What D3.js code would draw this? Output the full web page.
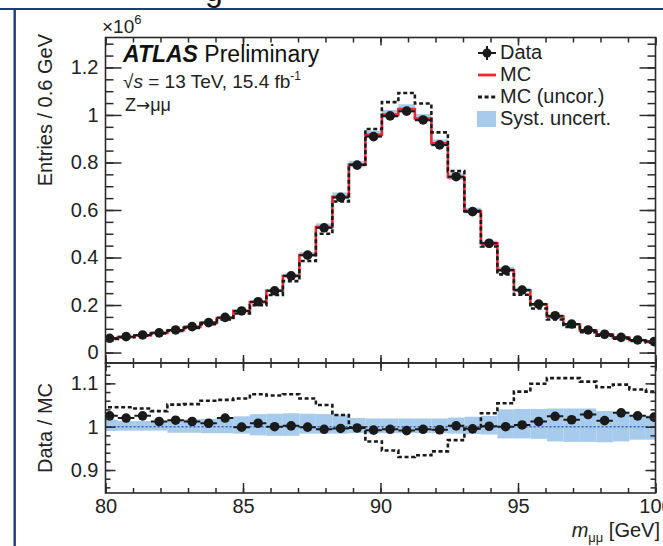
<!DOCTYPE html>
<html lang="en">
<head>
<meta charset="UTF-8">
<title>Z to mumu invariant mass</title>
<style>
    body { margin: 0; background: #ffffff; }
    svg { display: block; font-family: 'Liberation Sans', Arial, sans-serif; }
</style>
</head>
<body>
<svg id="chart" width="663" height="546"></svg>
<script src="https://d3js.org/d3.v7.min.js"></script>
<script>
// bin centres in GeV, bins are 0.6 GeV wide
const massCenters = [80.15, 80.75, 81.35, 81.95, 82.55, 83.15, 83.75, 84.35, 84.95, 85.55, 86.15, 86.75,
    87.35, 87.95, 88.55, 89.15, 89.75, 90.35, 90.95, 91.55, 92.15, 92.75, 93.35, 93.95, 94.55, 95.15,
    95.75, 96.35, 96.95, 97.55, 98.15, 98.75, 99.35, 99.95];
const binWidth = 0.6;
// entries in units of 10^6
const dataEntries = [0.060, 0.067, 0.074, 0.083, 0.095, 0.109, 0.126, 0.148, 0.175, 0.214, 0.260, 0.323,
    0.410, 0.525, 0.653, 0.789, 0.909, 0.996, 1.016, 0.979, 0.874, 0.740, 0.593, 0.460, 0.347, 0.263,
    0.204, 0.155, 0.120, 0.095, 0.077, 0.064, 0.053, 0.046];
const mcEntries = [0.0585, 0.0657, 0.0722, 0.0820, 0.0936, 0.1077, 0.1250, 0.1451, 0.1752, 0.2123, 0.2600, 0.3224,
    0.4104, 0.5282, 0.6556, 0.7914, 0.9163, 1.0020, 1.0252, 0.9849, 0.8802, 0.7385, 0.5960, 0.4595, 0.3470, 0.2620,
    0.2016, 0.1514, 0.1181, 0.0924, 0.0759, 0.0620, 0.0517, 0.0450];
const mcUncorEntries = [0.0574, 0.0641, 0.0710, 0.0801, 0.0904, 0.1036, 0.1189, 0.1394, 0.1643, 0.1991, 0.2425, 0.3005,
    0.3850, 0.5000, 0.6358, 0.7906, 0.9410, 1.0540, 1.0925, 1.0482, 0.9268, 0.7637, 0.5954, 0.4462, 0.3292, 0.2433,
    0.1856, 0.1394, 0.1079, 0.0861, 0.0706, 0.0583, 0.0488, 0.0426];
// Data / MC ratios
const ratioData = [1.025, 1.020, 1.025, 1.012, 1.015, 1.012, 1.008, 1.020, 0.999, 1.008, 1.000, 1.002,
    0.999, 0.994, 0.996, 0.997, 0.992, 0.994, 0.991, 0.994, 0.993, 1.002, 0.995, 1.001, 1.000, 1.004,
    1.012, 1.024, 1.016, 1.028, 1.014, 1.032, 1.025, 1.022];
const ratioUncor = [1.045, 1.045, 1.042, 1.036, 1.051, 1.052, 1.060, 1.062, 1.065, 1.075, 1.072, 1.075,
    1.065, 1.050, 1.027, 0.998, 0.966, 0.945, 0.930, 0.934, 0.943, 0.969, 0.996, 1.031, 1.054, 1.081,
    1.099, 1.112, 1.112, 1.104, 1.091, 1.097, 1.086, 1.081];
// relative systematic uncertainty, up and down
const systUp = [0.016, 0.013, 0.013, 0.013, 0.017, 0.017, 0.018, 0.018, 0.024, 0.029, 0.030, 0.031,
    0.030, 0.029, 0.028, 0.020, 0.019, 0.019, 0.019, 0.019, 0.019, 0.021, 0.023, 0.025, 0.040, 0.041,
    0.041, 0.042, 0.042, 0.042, 0.036, 0.035, 0.026, 0.026];
const systDown = [0.010, 0.009, 0.009, 0.009, 0.014, 0.014, 0.015, 0.015, 0.016, 0.020, 0.021, 0.021,
    0.016, 0.016, 0.016, 0.015, 0.015, 0.015, 0.015, 0.015, 0.015, 0.016, 0.017, 0.018, 0.027, 0.027,
    0.028, 0.034, 0.035, 0.035, 0.036, 0.034, 0.030, 0.030];
const mainTicks = [0, 0.2, 0.4, 0.6, 0.8, 1, 1.2];
const mainTickLabels = ["0", "0.2", "0.4", "0.6", "0.8", "1", "1.2"];
const ratioTicks = [0.9, 1, 1.1];
const ratioTickLabels = ["0.9", "1", "1.1"];
const massTicks = [80, 85, 90, 95, 100];
const massTickLabels = ["80", "85", "90", "95", "100"];
const legendLabels = ["Data", "MC", "MC (uncor.)", "Syst. uncert."];

const svg = d3.select("#chart");
const left = 105.5, right = 655.5, top1 = 37.5, bottom1 = 363, bottom2 = 493;
const ink = "#2a2a2a", red = "#f0282d", band = "#a6cbec";

const x = d3.scaleLinear().domain([80, 100]).range([left, right]);
const yMain = d3.scaleLinear().domain([-0.044, 1.326]).range([bottom1, top1]);
const yRatio = d3.scaleLinear().domain([0.847, 1.147]).range([bottom2, bottom1]);

const bins = massCenters.map((c, i) => ({
    lo: c - binWidth / 2, hi: c + binWidth / 2, c: c,
    data: dataEntries[i], mc: mcEntries[i], unc: mcUncorEntries[i],
    r: ratioData[i], ru: ratioUncor[i], up: systUp[i], dn: systDown[i]
}));

// slide border around the figure
svg.append("line").attr("x1", 0).attr("x2", 663).attr("y1", 9).attr("y2", 9)
    .attr("stroke", "#1e3a80").attr("stroke-width", 2.2);
svg.append("line").attr("x1", 14.7).attr("x2", 14.7).attr("y1", 8).attr("y2", 546)
    .attr("stroke", "#1e3a80").attr("stroke-width", 2.4);
svg.append("text").attr("x", 205).attr("y", 1).attr("font-size", 32).attr("fill", "#111").text("g");

const defs = svg.append("defs");
defs.append("clipPath").attr("id", "clipMain").append("rect")
    .attr("x", left).attr("y", top1).attr("width", right - left).attr("height", bottom1 - top1);
defs.append("clipPath").attr("id", "clipRatio").append("rect")
    .attr("x", left).attr("y", bottom1).attr("width", right - left).attr("height", bottom2 - bottom1);

function stepPath(yScale, key) {
    const pts = bins.map(b => [b.lo, b[key]]);
    pts.push([bins[bins.length - 1].hi, bins[bins.length - 1][key]]);
    return d3.line().x(d => x(d[0])).y(d => yScale(d[1])).curve(d3.curveStepAfter)(pts);
}

// ---- upper panel ----
const main = svg.append("g").attr("clip-path", "url(#clipMain)");
main.selectAll("rect.band").data(bins).enter().append("rect")
    .attr("x", d => x(d.lo)).attr("width", d => x(d.hi) - x(d.lo))
    .attr("y", d => yMain(d.mc * (1 + d.up)))
    .attr("height", d => yMain(d.mc * (1 - d.dn)) - yMain(d.mc * (1 + d.up)))
    .attr("fill", band);
main.append("path").attr("d", stepPath(yMain, "mc"))
    .attr("fill", "none").attr("stroke", red).attr("stroke-width", 2.6);
main.append("path").attr("d", stepPath(yMain, "unc"))
    .attr("fill", "none").attr("stroke", "#1a1a1a").attr("stroke-width", 2.6).attr("stroke-dasharray", "4,2.6");
main.selectAll("line.err").data(bins).enter().append("line")
    .attr("x1", d => x(d.lo)).attr("x2", d => x(d.hi))
    .attr("y1", d => yMain(d.data)).attr("y2", d => yMain(d.data))
    .attr("stroke", "#1a1a1a").attr("stroke-width", 2);
main.selectAll("circle").data(bins).enter().append("circle")
    .attr("cx", d => x(d.c)).attr("cy", d => yMain(d.data)).attr("r", 4.8).attr("fill", "#1a1a1a");

// ---- ratio panel ----
const ratio = svg.append("g").attr("clip-path", "url(#clipRatio)");
ratio.selectAll("rect.band").data(bins).enter().append("rect")
    .attr("x", d => x(d.lo)).attr("width", d => x(d.hi) - x(d.lo))
    .attr("y", d => yRatio(1 + d.up))
    .attr("height", d => yRatio(1 - d.dn) - yRatio(1 + d.up))
    .attr("fill", band);
ratio.append("line").attr("x1", left).attr("x2", right).attr("y1", yRatio(1)).attr("y2", yRatio(1))
    .attr("stroke", "#3a5ad0").attr("stroke-width", 1.6).attr("stroke-dasharray", "2,2");
ratio.append("path").attr("d", stepPath(yRatio, "ru"))
    .attr("fill", "none").attr("stroke", "#1a1a1a").attr("stroke-width", 2.6).attr("stroke-dasharray", "4,2.6");
ratio.selectAll("line.err").data(bins).enter().append("line")
    .attr("x1", d => x(d.lo)).attr("x2", d => x(d.hi))
    .attr("y1", d => yRatio(d.r)).attr("y2", d => yRatio(d.r))
    .attr("stroke", "#1a1a1a").attr("stroke-width", 2);
ratio.selectAll("circle").data(bins).enter().append("circle")
    .attr("cx", d => x(d.c)).attr("cy", d => yRatio(d.r)).attr("r", 4.8).attr("fill", "#1a1a1a");

// ---- axes ----
function place(axis, tx, ty) {
    const g = svg.append("g").attr("transform", `translate(${tx},${ty})`).call(axis);
    g.select(".domain").remove();
    g.attr("font-family", null).attr("font-size", 20);
    g.selectAll("line").attr("stroke", ink).attr("stroke-width", 1.5);
    g.selectAll("text").attr("fill", "#222");
    return g;
}
const minorMain = d3.range(0, 1.31, 0.05);
const minorRatio = d3.range(0.86, 1.141, 0.02);
const minorMass = d3.range(80, 100.1, 1);

// upper panel: left/right
place(d3.axisLeft(yMain).tickValues(minorMain).tickSize(-8).tickFormat(""), left, 0);
place(d3.axisLeft(yMain).tickValues(mainTicks).tickSize(-16).tickPadding(7)
    .tickFormat((d, i) => mainTickLabels[i]), left, 0);
place(d3.axisRight(yMain).tickValues(minorMain).tickSize(-8).tickFormat(""), right, 0);
place(d3.axisRight(yMain).tickValues(mainTicks).tickSize(-16).tickFormat(""), right, 0);
// upper panel: top/bottom
place(d3.axisTop(x).tickValues(minorMass).tickSize(-5).tickFormat(""), 0, top1);
place(d3.axisTop(x).tickValues(massTicks).tickSize(-8).tickFormat(""), 0, top1);
place(d3.axisBottom(x).tickValues(minorMass).tickSize(-5).tickFormat(""), 0, bottom1);
place(d3.axisBottom(x).tickValues(massTicks).tickSize(-8).tickFormat(""), 0, bottom1);
// ratio panel
place(d3.axisLeft(yRatio).tickValues(minorRatio).tickSize(-5).tickFormat(""), left, 0);
place(d3.axisLeft(yRatio).tickValues(ratioTicks).tickSize(-10).tickPadding(7)
    .tickFormat((d, i) => ratioTickLabels[i]), left, 0);
place(d3.axisRight(yRatio).tickValues(minorRatio).tickSize(-5).tickFormat(""), right, 0);
place(d3.axisRight(yRatio).tickValues(ratioTicks).tickSize(-10).tickFormat(""), right, 0);
place(d3.axisTop(x).tickValues(minorMass).tickSize(-5).tickFormat(""), 0, bottom1);
place(d3.axisTop(x).tickValues(massTicks).tickSize(-8).tickFormat(""), 0, bottom1);
place(d3.axisBottom(x).tickValues(minorMass).tickSize(-5).tickFormat(""), 0, bottom2);
place(d3.axisBottom(x).tickValues(massTicks).tickSize(-10).tickPadding(6)
    .tickFormat((d, i) => massTickLabels[i]), 0, bottom2);

// frames
svg.append("rect").attr("x", left).attr("y", top1).attr("width", right - left).attr("height", bottom1 - top1)
    .attr("fill", "none").attr("stroke", ink).attr("stroke-width", 1.6);
svg.append("rect").attr("x", left).attr("y", bottom1).attr("width", right - left).attr("height", bottom2 - bottom1)
    .attr("fill", "none").attr("stroke", ink).attr("stroke-width", 1.6);

// ---- titles ----
svg.append("text").attr("transform", "translate(52,34) rotate(-90)")
    .attr("text-anchor", "end").attr("font-size", 20).attr("fill", "#222").text("Entries / 0.6 GeV");
svg.append("text").attr("transform", "translate(52,428) rotate(-90)")
    .attr("text-anchor", "middle").attr("font-size", 20).attr("fill", "#222").text("Data / MC");
const xt = svg.append("text").attr("x", 660).attr("y", 537).attr("text-anchor", "end")
    .attr("font-size", 20).attr("fill", "#222");
xt.append("tspan").attr("font-style", "italic").text("m");
xt.append("tspan").attr("font-size", 13).attr("dy", 5).text("μμ");
xt.append("tspan").attr("dy", -5).text(" [GeV]");

const exp = svg.append("text").attr("x", 102).attr("y", 33).attr("font-size", 19).attr("fill", "#222");
exp.append("tspan").text("×10");
exp.append("tspan").attr("font-size", 13).attr("dy", -9).text("6");

const atlas = svg.append("text").attr("x", 123).attr("y", 62).attr("font-size", 23).attr("fill", "#111");
atlas.append("tspan").attr("font-weight", "bold").attr("font-style", "italic").text("ATLAS");
atlas.append("tspan").text(" Preliminary");

const energy = svg.append("text").attr("x", 123).attr("y", 88).attr("font-size", 19).attr("fill", "#222");
energy.append("tspan").text("√");
energy.append("tspan").attr("font-style", "italic").text("s");
energy.append("tspan").text(" = 13 TeV, 15.4 fb");
energy.append("tspan").attr("font-size", 12).attr("dy", -8).text("-1");

const zmm = svg.append("text").attr("x", 125).attr("y", 111).attr("font-size", 18).attr("fill", "#222");
zmm.append("tspan").text("Z");
zmm.append("tspan").attr("font-family", "'DejaVu Sans', sans-serif").attr("font-size", 17).text("→");
zmm.append("tspan").text("μμ");

// ---- legend ----
const legY = [59, 81, 103, 125];
const leg = svg.append("g");
leg.selectAll("text").data(legendLabels).enter().append("text")
    .attr("x", 500).attr("y", (d, i) => legY[i]).attr("font-size", 20).attr("fill", "#222").text(d => d);
leg.append("line").attr("x1", 478).attr("x2", 496).attr("y1", legY[0] - 6).attr("y2", legY[0] - 6)
    .attr("stroke", "#1a1a1a").attr("stroke-width", 2);
leg.append("line").attr("x1", 487).attr("x2", 487).attr("y1", legY[0] - 13).attr("y2", legY[0] + 1)
    .attr("stroke", "#1a1a1a").attr("stroke-width", 2);
leg.append("circle").attr("cx", 487).attr("cy", legY[0] - 6).attr("r", 4.5).attr("fill", "#1a1a1a");
leg.append("line").attr("x1", 478).attr("x2", 496).attr("y1", legY[1] - 6).attr("y2", legY[1] - 6)
    .attr("stroke", red).attr("stroke-width", 2.8);
leg.append("line").attr("x1", 478).attr("x2", 497).attr("y1", legY[2] - 6).attr("y2", legY[2] - 6)
    .attr("stroke", "#1a1a1a").attr("stroke-width", 2.8).attr("stroke-dasharray", "4,2.6");
leg.append("rect").attr("x", 477).attr("y", legY[3] - 14).attr("width", 19).attr("height", 16)
    .attr("fill", band);
</script>
</body>
</html>
